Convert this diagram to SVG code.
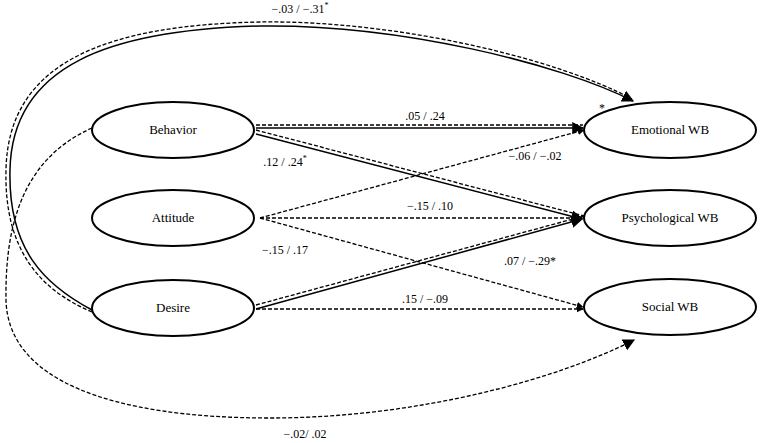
<svg xmlns="http://www.w3.org/2000/svg" width="760" height="443" viewBox="0 0 760 443">
<style>
.n{fill:#fff;stroke:#000;stroke-width:2}
.t{font-family:"Liberation Serif","Times New Roman",serif;font-size:13px;fill:#000;text-anchor:middle}
.l{font-family:"Liberation Serif","Times New Roman",serif;font-size:12px;fill:#000;text-anchor:middle}
.s{fill:none;stroke:#000;stroke-width:1.5}
.d{fill:none;stroke:#000;stroke-width:1.3;stroke-dasharray:4 2}
</style>
<defs>
<marker id="a" viewBox="0 0 10 10" refX="9" refY="5" markerWidth="7" markerHeight="7" orient="auto" markerUnits="userSpaceOnUse"><path d="M0,0L10,5L0,10z"/></marker>
<marker id="b" viewBox="0 0 10 10" refX="9" refY="5" markerWidth="12" markerHeight="12" orient="auto" markerUnits="userSpaceOnUse"><path d="M0,0L10,5L0,10z"/></marker>
</defs>
<g id="connectors">
<path class="d" d="M256,125 L583,125"/>
<path class="s" d="M256,128 L583,128" marker-end="url(#b)"/>
<path class="d" d="M256,130 L584,216"/>
<path class="s" d="M256,134 L582,219" marker-end="url(#b)"/>
<path class="d" d="M260,218 L584,130" marker-end="url(#a)"/>
<path class="d" d="M260,218 L583,218" marker-end="url(#a)"/>
<path class="d" d="M260,218 L583,307" marker-end="url(#a)"/>
<path class="d" d="M256,305 L584,216"/>
<path class="s" d="M256,309 L582,219" marker-end="url(#b)"/>
<path class="d" d="M256,309 L583,309" marker-end="url(#a)"/>
<path class="d" d="M92,312 C40,290 4,250 6,170 C8,60 110,25 260,22 C400,20 560,60 632,99"/>
<path class="s" d="M92,310 C45,285 8,250 10,170 C12,65 110,30 260,26 C400,24 560,64 633,101" marker-end="url(#b)"/>
<path class="d" d="M92,128 C20,160 5,230 6,300 C8,380 110,418 270,418 C420,418 560,378 634,340" marker-end="url(#b)"/>
</g>
<g id="behavior"><ellipse class="n" cx="173" cy="130" rx="81" ry="28"/><text class="t" x="173" y="134">Behavior</text></g>
<g id="attitude"><ellipse class="n" cx="173" cy="218" rx="81" ry="28"/><text class="t" x="173" y="222">Attitude</text></g>
<g id="desire"><ellipse class="n" cx="173" cy="308" rx="81" ry="28"/><text class="t" x="173" y="312">Desire</text></g>
<g id="emotional"><ellipse class="n" cx="670" cy="130" rx="86" ry="28"/><text class="t" x="670" y="134">Emotional WB</text></g>
<g id="psychological"><ellipse class="n" cx="670" cy="218" rx="86" ry="28"/><text class="t" x="670" y="222">Psychological WB</text></g>
<g id="social"><ellipse class="n" cx="670" cy="307" rx="86" ry="28"/><text class="t" x="670" y="311">Social WB</text></g>
<g id="labels">
<text class="l" x="300" y="13">−.03 / −.31<tspan font-size="8" dy="-5">*</tspan></text>
<text class="l" x="425" y="120">.05 / .24</text>
<text class="l" x="285" y="166">.12 / .24<tspan font-size="8" dy="-5">*</tspan></text>
<text class="l" x="535" y="160">−.06 / −.02</text>
<text class="l" x="430" y="210">−.15 / .10</text>
<text class="l" x="285" y="254">−.15 / .17</text>
<text class="l" x="530" y="265">.07 / −.29*</text>
<text class="l" x="425" y="303">.15 / −.09</text>
<text class="l" x="305" y="438">−.02/ .02</text>
<text class="l" x="602" y="112" font-size="8">*</text>
</g>
</svg>
